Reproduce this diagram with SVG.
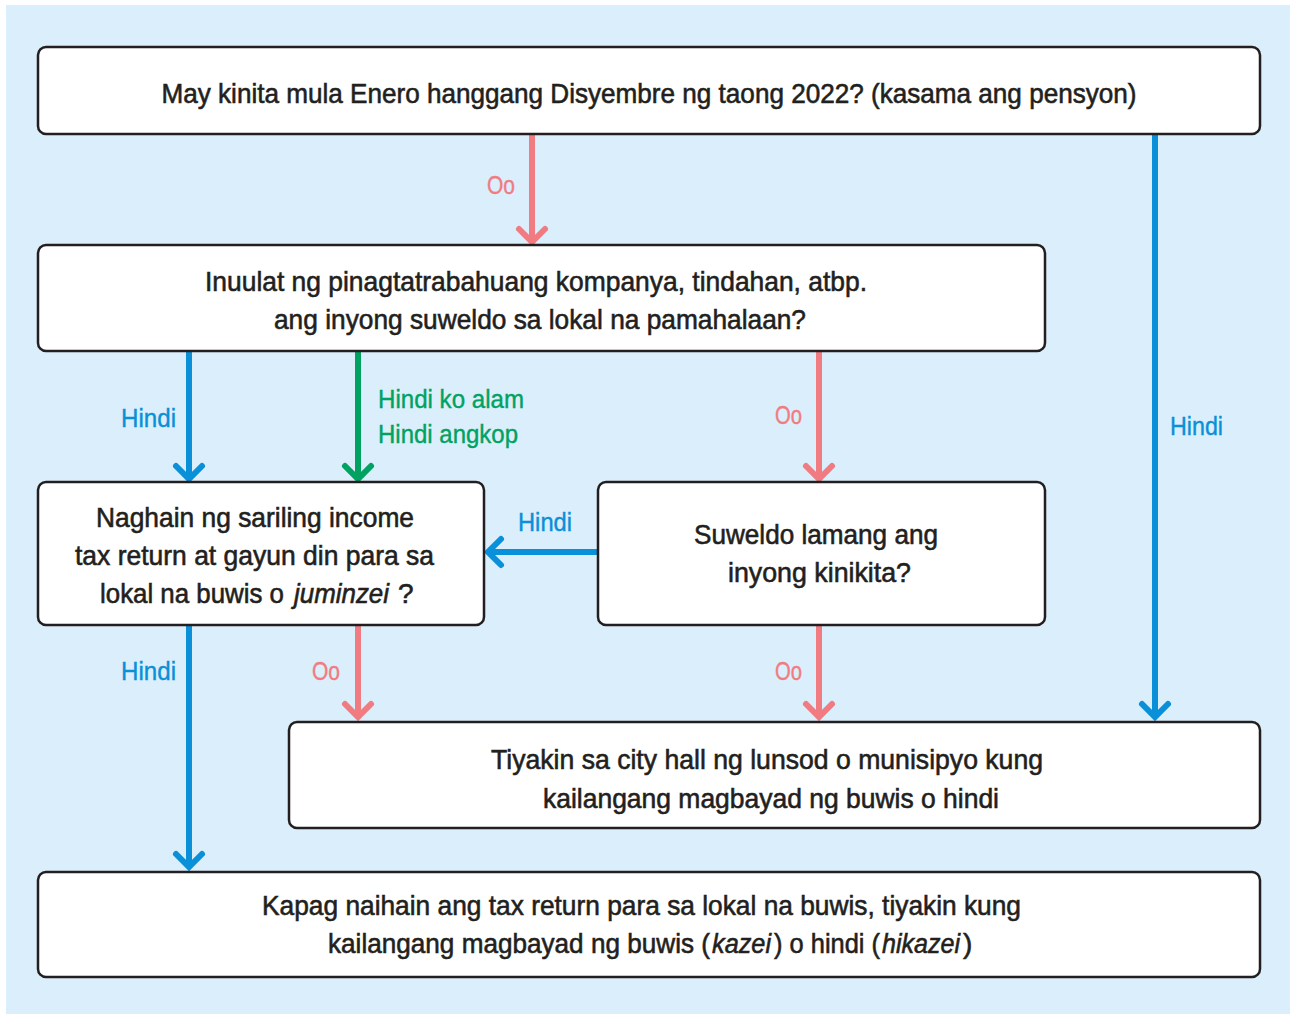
<svg xmlns="http://www.w3.org/2000/svg" width="1290" height="1014" viewBox="0 0 1290 1014">
<style>
.box{fill:#fff;stroke:#231f20;stroke-width:2.5}
.t{font-family:"Liberation Sans",Arial,sans-serif;font-size:28px;fill:#231f20;stroke:#231f20;stroke-width:0.6;text-anchor:middle}
.s{text-anchor:start}
.l{font-family:"Liberation Sans",Arial,sans-serif;font-size:26px;stroke-width:0.4}
.it{font-style:italic}
.ln{fill:none;stroke-width:6}
.hd{fill:none;stroke-width:6;stroke-linecap:round;stroke-linejoin:miter}
.pk{stroke:#f07c82}.bl{stroke:#0a90d8}.gr{stroke:#00a262}
.fpk{fill:#f07c82;stroke:#f07c82}.fbl{fill:#0a90d8;stroke:#0a90d8}.fgr{fill:#00a262;stroke:#00a262}
</style>
<rect x="6" y="5" width="1284" height="1009" fill="#dbeefb"/>
<g id="connectors">
  <path class="ln pk" d="M532 134V240"/><path class="hd pk" d="M519 229L532 242L545 229"/>
  <path class="ln bl" d="M1155 134V715"/><path class="hd bl" d="M1142 704L1155 717L1168 704"/>
  <path class="ln bl" d="M189 351V477"/><path class="hd bl" d="M176 466L189 479L202 466"/>
  <path class="ln gr" d="M358 351V477"/><path class="hd gr" d="M345 466L358 479L371 466"/>
  <path class="ln pk" d="M819 351V477"/><path class="hd pk" d="M806 466L819 479L832 466"/>
  <path class="ln bl" d="M598 552H490"/><path class="hd bl" d="M501 539L488 552L501 565"/>
  <path class="ln bl" d="M189 625V865"/><path class="hd bl" d="M176 854L189 867L202 854"/>
  <path class="ln pk" d="M358 625V715"/><path class="hd pk" d="M345 704L358 717L371 704"/>
  <path class="ln pk" d="M819 625V715"/><path class="hd pk" d="M806 704L819 717L832 704"/>
  <text class="l fpk" x="487" y="194" textLength="28" lengthAdjust="spacingAndGlyphs">Oo</text>
  <text class="l fbl" x="1170" y="435" textLength="53" lengthAdjust="spacingAndGlyphs">Hindi</text>
  <text class="l fbl" x="121" y="427" textLength="55" lengthAdjust="spacingAndGlyphs">Hindi</text>
  <text class="l fgr" x="378" y="408" textLength="146" lengthAdjust="spacingAndGlyphs">Hindi ko alam</text>
  <text class="l fgr" x="378" y="443" textLength="140" lengthAdjust="spacingAndGlyphs">Hindi angkop</text>
  <text class="l fpk" x="775" y="424" textLength="27" lengthAdjust="spacingAndGlyphs">Oo</text>
  <text class="l fbl" x="518" y="531" textLength="54" lengthAdjust="spacingAndGlyphs">Hindi</text>
  <text class="l fbl" x="121" y="680" textLength="55" lengthAdjust="spacingAndGlyphs">Hindi</text>
  <text class="l fpk" x="312" y="680" textLength="28" lengthAdjust="spacingAndGlyphs">Oo</text>
  <text class="l fpk" x="775" y="680" textLength="27" lengthAdjust="spacingAndGlyphs">Oo</text>
</g>
<g id="n1">
  <rect class="box" x="38" y="47" width="1222" height="87" rx="8"/>
  <text class="t" x="649" y="103" textLength="975" lengthAdjust="spacingAndGlyphs">May kinita mula Enero hanggang Disyembre ng taong 2022? (kasama ang pensyon)</text>
</g>
<g id="n2">
  <rect class="box" x="38" y="245" width="1007" height="106" rx="8"/>
  <text class="t" x="536" y="291" textLength="662" lengthAdjust="spacingAndGlyphs">Inuulat ng pinagtatrabahuang kompanya, tindahan, atbp.</text>
  <text class="t" x="540" y="329" textLength="532" lengthAdjust="spacingAndGlyphs">ang inyong suweldo sa lokal na pamahalaan?</text>
</g>
<g id="n3">
  <rect class="box" x="38" y="482" width="446" height="143" rx="8"/>
  <text class="t" x="255" y="527" textLength="318" lengthAdjust="spacingAndGlyphs">Naghain ng sariling income</text>
  <text class="t" x="254.5" y="565" textLength="359" lengthAdjust="spacingAndGlyphs">tax return at gayun din para sa</text>
  <text class="t s" x="100" y="603" textLength="184" lengthAdjust="spacingAndGlyphs">lokal na buwis o</text>
  <text class="t s it" x="294" y="603" textLength="95" lengthAdjust="spacingAndGlyphs">juminzei</text>
  <text class="t s" x="398" y="603">?</text>
</g>
<g id="n4">
  <rect class="box" x="598" y="482" width="447" height="143" rx="8"/>
  <text class="t" x="816" y="544" textLength="244" lengthAdjust="spacingAndGlyphs">Suweldo lamang ang</text>
  <text class="t" x="819.5" y="582" textLength="183" lengthAdjust="spacingAndGlyphs">inyong kinikita?</text>
</g>
<g id="n5">
  <rect class="box" x="289" y="722" width="971" height="106" rx="8"/>
  <text class="t" x="767" y="769" textLength="552" lengthAdjust="spacingAndGlyphs">Tiyakin sa city hall ng lunsod o munisipyo kung</text>
  <text class="t" x="771" y="808" textLength="456" lengthAdjust="spacingAndGlyphs">kailangang magbayad ng buwis o hindi</text>
</g>
<g id="n6">
  <rect class="box" x="38" y="872" width="1222" height="105" rx="8"/>
  <text class="t" x="641.5" y="915" textLength="759" lengthAdjust="spacingAndGlyphs">Kapag naihain ang tax return para sa lokal na buwis, tiyakin kung</text>
  <text class="t s" x="328" y="953" textLength="382" lengthAdjust="spacingAndGlyphs">kailangang magbayad ng buwis (</text>
  <text class="t s it" x="712" y="953" textLength="59" lengthAdjust="spacingAndGlyphs">kazei</text>
  <text class="t s" x="774" y="953" textLength="106" lengthAdjust="spacingAndGlyphs">) o hindi (</text>
  <text class="t s it" x="882" y="953" textLength="78" lengthAdjust="spacingAndGlyphs">hikazei</text>
  <text class="t s" x="963" y="953">)</text>
</g>
</svg>
